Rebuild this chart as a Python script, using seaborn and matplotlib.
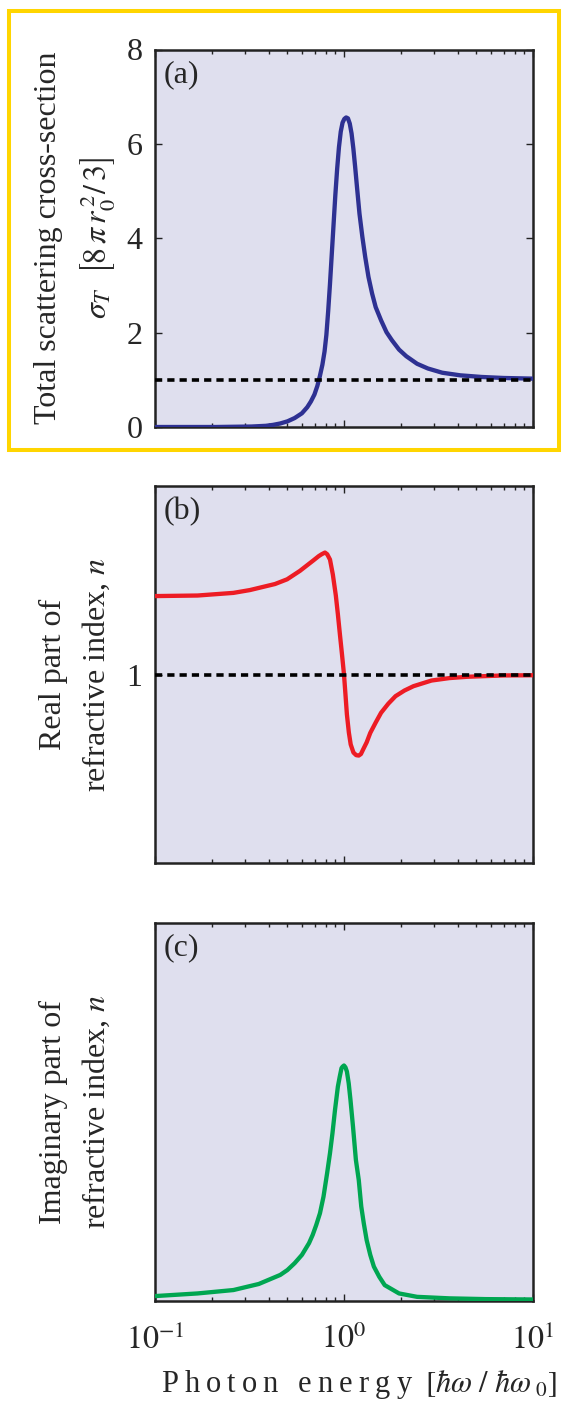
import numpy as np
import pandas as pd
import matplotlib
matplotlib.use("Agg")
import matplotlib.pyplot as plt
from matplotlib.patches import Rectangle
from matplotlib.ticker import LogLocator, NullFormatter
import seaborn as sns

# values (x = photon energy in units of hbar*omega_0)
energy_a = [0.1, 0.2089, 0.324, 0.386, 0.4214, 0.4601, 0.5023, 0.5483, 0.5986, 0.6393,
            0.668, 0.6978, 0.7228, 0.7455, 0.7686, 0.789, 0.8067, 0.8245, 0.8426, 0.8615,
            0.8808, 0.9, 0.92, 0.9404, 0.9613, 0.9826, 1.0044, 1.0266, 1.0495, 1.0727,
            1.0965, 1.1208, 1.1456, 1.1711, 1.2076, 1.2506, 1.2953, 1.3474, 1.4079, 1.4711,
            1.571, 1.678, 1.7918, 1.9559, 2.1355, 2.4359, 2.7785, 3.3113, 4.1229, 5.364,
            6.9788, 10.0]
sigma_t = [0.0, 0.0, 0.01, 0.025, 0.045, 0.075, 0.12, 0.19, 0.29, 0.42,
           0.54, 0.69, 0.87, 1.08, 1.32, 1.6, 1.95, 2.45, 3.02, 3.66,
           4.3, 4.92, 5.47, 5.93, 6.26, 6.45, 6.53, 6.56, 6.54, 6.43,
           6.22, 5.9, 5.51, 5.09, 4.52, 4.03, 3.6, 3.18, 2.83, 2.54,
           2.26, 2.01, 1.84, 1.64, 1.5, 1.34, 1.24, 1.15, 1.095, 1.06,
           1.039, 1.025]

energy_b = [0.1, 0.168, 0.26, 0.318, 0.4315, 0.5, 0.585, 0.688, 0.735, 0.762,
            0.793, 0.815, 0.843, 0.873, 0.905, 0.928, 0.952, 0.976, 1.0, 1.018,
            1.036, 1.061, 1.085, 1.122, 1.16, 1.197, 1.229, 1.262, 1.318,
            1.377, 1.471, 1.571, 1.715, 1.873, 2.089, 2.331, 2.904, 3.614, 4.5,
            6.98, 10.0]
n_real = [1.416, 1.419, 1.433, 1.448, 1.48, 1.505, 1.55, 1.605, 1.628, 1.638,
          1.647, 1.638, 1.61, 1.53, 1.42, 1.32, 1.21, 1.106, 1.0, 0.894,
          0.788, 0.692, 0.629, 0.586, 0.572, 0.57, 0.578, 0.602, 0.64,
          0.69, 0.745, 0.797, 0.845, 0.885, 0.915, 0.938, 0.968, 0.981, 0.988,
          0.995, 0.996]

energy_c = [0.1, 0.168, 0.26, 0.354, 0.46, 0.502, 0.548, 0.599, 0.653, 0.683,
            0.713, 0.746, 0.779, 0.814, 0.843, 0.869, 0.896, 0.928, 0.949, 0.97,
            0.983, 1.0, 1.018, 1.036, 1.059, 1.082, 1.116, 1.156, 1.197, 1.234,
            1.273, 1.318, 1.377, 1.439, 1.537, 1.642, 1.792, 1.955, 2.436, 3.614,
            5.6, 10.0]
n_imag = [0.013, 0.02, 0.029, 0.045, 0.069, 0.082, 0.1, 0.122, 0.153, 0.175,
          0.201, 0.232, 0.276, 0.338, 0.391, 0.444, 0.505, 0.567, 0.593, 0.616,
          0.62, 0.623, 0.618, 0.607, 0.576, 0.532, 0.461, 0.373, 0.32, 0.25,
          0.205, 0.161, 0.122, 0.091, 0.064, 0.042, 0.031, 0.02, 0.011, 0.007,
          0.005, 0.004]

panel_tags = ["(a)", "(b)", "(c)"]
ylabels = ["Total scattering cross-section\n"
           r"$\sigma_T\ \ \left[8\,\pi\, r_0^{\,2}/\,3\right]$",
           "Real part of\nrefractive index, $n$",
           "Imaginary part of\nrefractive index, $n$"]
xtick_labels = [r"$10^{-1}$", r"$10^{0}$", r"$10^{1}$"]
xlabel = ("\u2009".join("Photon") + "\u2009\u2009 " + "\u2009".join("energy")
          + "\u2009 " + r"$[\hbar\omega\ /\ \hbar\omega_{\ 0}]$")

sns.set_style("ticks")
plt.rcParams["font.family"] = ["Liberation Serif", "DejaVu Serif"]
plt.rcParams["mathtext.fontset"] = "stix"

bg = "#dfdfee"
colors = ["#2e3192", "#ed1c24", "#00a651"]
fs = 23

fig = plt.figure(figsize=(5.64, 14.04), dpi=100)
W, H = 564, 1404
# axes boxes in pixels: (top, bottom)
boxes = [(49.5, 427), (486, 863), (923, 1301)]
left_px, right_px = 155, 533

frames = [
    pd.DataFrame({"energy": energy_a, "value": sigma_t}),
    pd.DataFrame({"energy": energy_b, "value": n_real}),
    pd.DataFrame({"energy": energy_c, "value": n_imag}),
]
ylims = [(0, 8), (0, 2), (0, 1)]
yticks = [[0, 2, 4, 6, 8], [1], []]

for i, (top, bot) in enumerate(boxes):
    ax = fig.add_axes([left_px / W, 1 - bot / H, (right_px - left_px) / W, (bot - top) / H])
    ax.set_facecolor(bg)
    sns.lineplot(data=frames[i], x="energy", y="value", ax=ax, color=colors[i],
                 lw=3.1, zorder=3)
    if i < 2:
        ax.axhline(1, color="black", lw=2.6, ls=(0, (2.0, 1.4)), zorder=4)
    ax.set_xscale("log")
    ax.set_xlim(0.1, 10)
    ax.set_ylim(*ylims[i])
    ax.set_yticks(yticks[i])
    ax.set_xticks([0.1, 1, 10])
    ax.xaxis.set_minor_locator(LogLocator(base=10, subs=np.arange(2, 10)))
    ax.xaxis.set_minor_formatter(NullFormatter())
    if i == 2:
        ax.set_xticklabels(xtick_labels)
        ax.set_xlabel(xlabel, fontsize=22, va="top")
        ax.xaxis.set_label_coords(0.54, -0.178)
    else:
        ax.set_xticklabels([])
        ax.set_xlabel("")
    ax.tick_params(which="both", direction="in", top=True, right=True,
                   labelsize=fs, width=1, color="#222222")
    ax.tick_params(axis="x", which="major", length=5, pad=17)
    ax.tick_params(axis="x", which="minor", length=3)
    ax.tick_params(axis="y", which="major", length=5, pad=9)
    for s in ax.spines.values():
        s.set_linewidth(1.8)
        s.set_color("#222222")
    ax.set_ylabel(ylabels[i], fontsize=fs, linespacing=1.55)
    ax.yaxis.label.set_va("center")
    ax.yaxis.set_label_coords(-0.21, 0.5)
    ax.text(0.022, 0.972, panel_tags[i], transform=ax.transAxes, fontsize=fs,
            ha="left", va="top")
    ax.grid(False)

# yellow highlight frame around panel (a)
x0, x1 = 9.3 / W, 559 / W
y0, y1 = 1 - 450 / H, 1 - 11.3 / H
fig.patches.append(Rectangle((x0, y0), x1 - x0, y1 - y0, transform=fig.transFigure,
                             fill=False, edgecolor="#ffd500", lw=2.9, zorder=10))

fig.savefig("out.png", dpi=100)
